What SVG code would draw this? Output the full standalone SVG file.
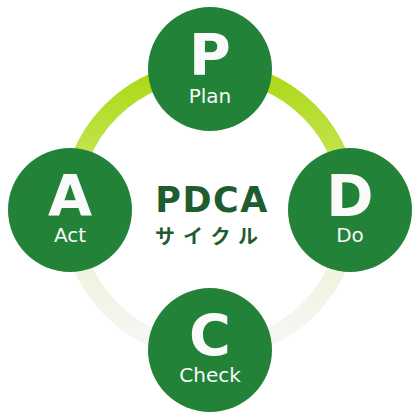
<svg xmlns="http://www.w3.org/2000/svg" width="420" height="420" viewBox="0 0 420 420">
<defs>
<linearGradient id="ringGrad" gradientUnits="userSpaceOnUse" x1="0" y1="70" x2="0" y2="350">
<stop offset="0" stop-color="#aad814"/>
<stop offset="0.35" stop-color="#c6e656"/>
<stop offset="0.7" stop-color="#eef4de"/>
<stop offset="1" stop-color="#f7f7f7"/>
</linearGradient>
<style>
.node{fill:#228238}
.big{font-family:"DejaVu Sans",Verdana,sans-serif;font-weight:bold;font-size:57px;fill:#fafafa;text-anchor:middle}
.lbl{font-family:"DejaVu Sans",Verdana,sans-serif;font-size:20px;fill:#fafafa;text-anchor:middle}
.title{font-family:"DejaVu Sans",Verdana,sans-serif;font-weight:bold;font-size:35px;fill:#1f5c2f;text-anchor:middle;letter-spacing:1.5px}
.sub{font-family:"Noto Sans CJK JP",sans-serif;font-weight:bold;font-size:20px;fill:#1f5c2f;letter-spacing:8px}
</style>
</defs>
<g id="connectors">
<circle cx="210" cy="210" r="140" fill="none" stroke="url(#ringGrad)" stroke-width="18"/>
</g>
<g id="center">
<text class="title" x="212" y="212">PDCA</text>
<text class="sub" x="155" y="244">サイクル</text>
</g>
<g id="plan">
<circle class="node" cx="210" cy="69" r="62"/>
<text class="big" x="210" y="75">P</text>
<text class="lbl" x="210" y="103">Plan</text>
</g>
<g id="do">
<circle class="node" cx="350" cy="210" r="62"/>
<text class="big" x="350" y="216">D</text>
<text class="lbl" x="350" y="242">Do</text>
</g>
<g id="check">
<circle class="node" cx="210" cy="350" r="62"/>
<text class="big" x="210" y="356">C</text>
<text class="lbl" x="210" y="382">Check</text>
</g>
<g id="act">
<circle class="node" cx="70" cy="210" r="62"/>
<text class="big" x="70" y="216">A</text>
<text class="lbl" x="70" y="242">Act</text>
</g>
</svg>
